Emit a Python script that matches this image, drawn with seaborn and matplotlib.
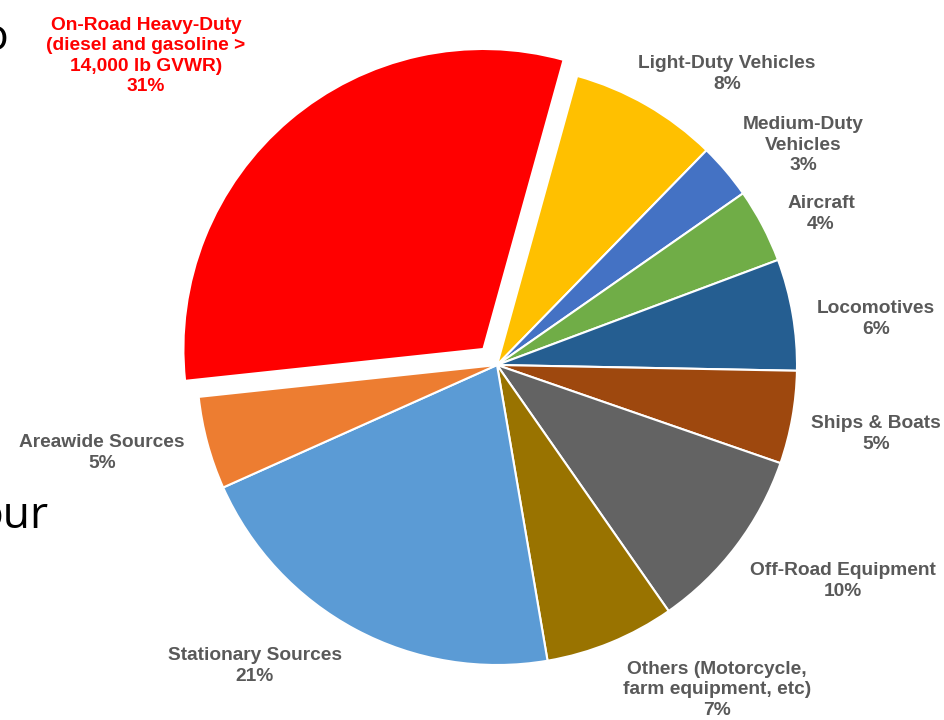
import matplotlib.pyplot as plt
import seaborn as sns

# share of emissions by source (%)
categories = [
    "Light-Duty Vehicles",
    "Medium-Duty\nVehicles",
    "Aircraft",
    "Locomotives",
    "Ships & Boats",
    "Off-Road Equipment",
    "Others (Motorcycle,\nfarm equipment, etc)",
    "Stationary Sources",
    "Areawide Sources",
    "On-Road Heavy-Duty\n(diesel and gasoline >\n14,000 lb GVWR)",
]
shares = [8, 3, 4, 6, 5, 10, 7, 21, 5, 31]

colors = ["#FFC000", "#4472C4", "#70AD47", "#255E91", "#9E480E",
          "#636363", "#997300", "#5B9BD5", "#ED7D31", "#FF0000"]

# label centres in units of pie radius (manually placed, like the original)
label_pos = [(0.767, 0.97), (1.02, 0.733), (1.08, 0.503), (1.263, 0.153),
             (1.263, -0.23), (1.153, -0.72), (0.733, -1.083),
             (-0.807, -1.003), (-1.317, -0.293), (-1.17, 1.03)]


def main():
    sns.set_theme(style="white")
    plt.rcParams['font.family'] = ['Liberation Sans', 'DejaVu Sans']

    fig = plt.figure(figsize=(9.44, 7.2), dpi=100)
    ax = fig.add_axes([0, 0, 1, 1])

    explode = [0.07 if s == max(shares) else 0 for s in shares]
    ax.pie(shares, colors=colors, startangle=74.5, counterclock=False,
           explode=explode, radius=1,
           wedgeprops=dict(edgecolor="white", linewidth=1.5))

    # pixel layout: centre at (497, 365), radius 300 px
    ax.set_xlim(-497 / 300, (944 - 497) / 300)
    ax.set_ylim(-(720 - 365) / 300, 365 / 300)
    ax.set_aspect("equal")
    ax.axis("off")

    for cat, val, (x, y), c in zip(categories, shares, label_pos, colors):
        col = "#FF0000" if c == "#FF0000" else "#595959"
        ax.text(x, y, f"{cat}\n{val}%", ha="center", va="center",
                fontsize=13.8, fontweight="bold", color=col,
                linespacing=1.25)

    # cut-off slide text behind the chart
    fig.text(8 / 944, 1 - 50 / 720, "o", ha="right", va="baseline",
             fontsize=32, color="black", family=["Open Sans"])
    fig.text(49 / 944, 1 - 528 / 720, "our", ha="right", va="baseline",
             fontsize=32, color="black", family=["Open Sans"])

    plt.savefig("out.png", dpi=100)
    plt.close()


if __name__ == '__main__':
    main()
